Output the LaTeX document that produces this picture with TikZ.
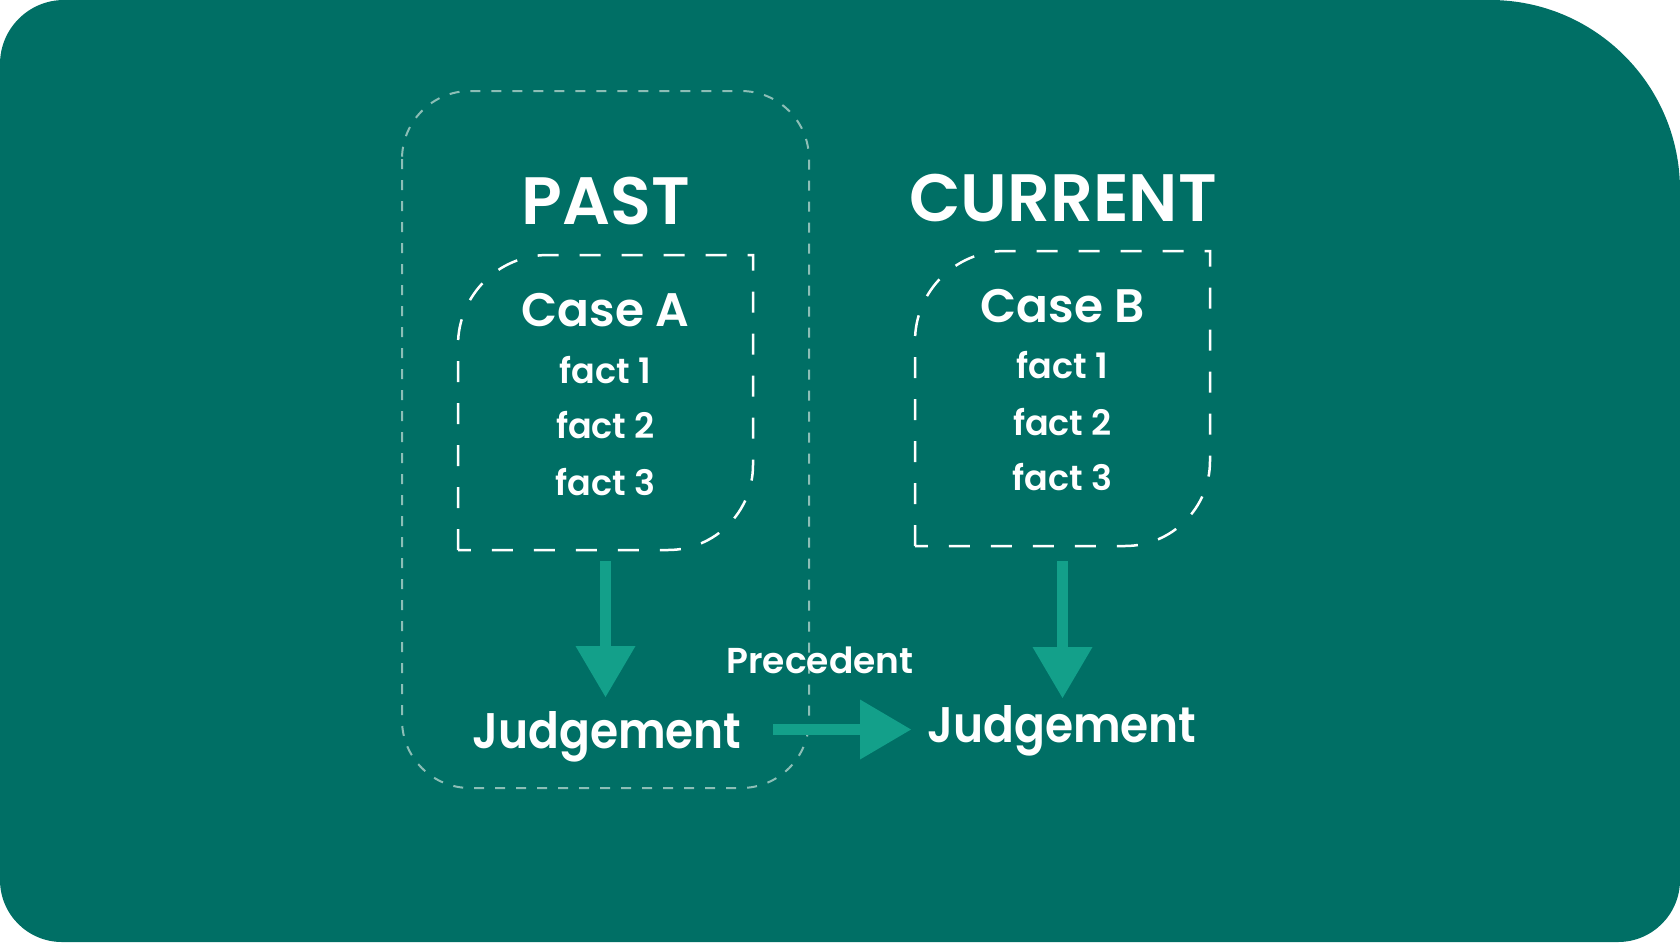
\documentclass[tikz,border=0pt]{standalone}
\usepackage{fontspec}
\setmainfont{Poppins}[UprightFont={* SemiBold}]
\usetikzlibrary{arrows.meta}
\definecolor{bg}{HTML}{006F65}
\definecolor{arr}{HTML}{13A08A}
\definecolor{outline}{HTML}{8CBEB6}
\tikzset{
  txt/.style={text=white, inner sep=0pt, anchor=base},
  titletxt/.style={txt, font=\fontsize{67}{80}\selectfont},
  casetxt/.style={txt, font=\fontsize{47}{56}\selectfont},
  facttxt/.style={txt, font=\fontsize{35}{42}\selectfont},
  judgetxt/.style={txt, font=\fontsize{50}{60}\selectfont},
  labeltxt/.style={txt, font=\fontsize{36}{43}\selectfont},
  innerbox/.style={draw=white, line width=2.5pt, dash pattern=on 21pt off 21pt},
  outerbox/.style={draw=outline, line width=2pt, dash pattern=on 10pt off 11pt},
  bigarrow/.style={draw=arr, line width=11pt, -{Triangle[length=51pt,width=60pt,line width=0pt]}}
}
\begin{document}
\begin{tikzpicture}[x=1pt,y=-1pt]
\useasboundingbox (0,0) rectangle (1680,942);
% background panel
\fill[bg] (0,64) arc[start angle=180,end angle=270,radius=64]
  -- (1490,0) arc[start angle=270,end angle=360,radius=190]
  -- (1680,880) arc[start angle=0,end angle=90,radius=62]
  -- (62,942) arc[start angle=90,end angle=180,radius=62] -- cycle;
% outer "past" group
\draw[outerbox, rounded corners=68pt] (402,91) rectangle (809,788);
% inner case boxes
\draw[innerbox] (458,550) -- (458,345) arc[start angle=180,end angle=270,radius=90]
  -- (753,255) -- (753,465) arc[start angle=0,end angle=90,radius=85] -- cycle;
\draw[innerbox] (915,546) -- (915,341) arc[start angle=180,end angle=270,radius=90]
  -- (1210,251) -- (1210,461) arc[start angle=0,end angle=90,radius=85] -- cycle;
% texts
\node[titletxt] (past) at (606,224) {PAST};
\node[titletxt] (current) at (1063,221) {CURRENT};
\node[casetxt] (caseA) at (605.5,326) {Case A};
\node[facttxt] (a1) at (605.5,383) {fact 1};
\node[facttxt] (a2) at (605.5,438) {fact 2};
\node[facttxt] (a3) at (605.5,495) {fact 3};
\node[casetxt] (caseB) at (1062.5,322) {Case B};
\node[facttxt] (b1) at (1062.5,378) {fact 1};
\node[facttxt] (b2) at (1062.5,435) {fact 2};
\node[facttxt] (b3) at (1062.5,490) {fact 3};
\node[judgetxt] (judgeA) at (607,748) {\scalebox{0.91}[1]{Judgement}};
\node[judgetxt] (judgeB) at (1062,742) {\scalebox{0.91}[1]{Judgement}};
\node[labeltxt] (prec) at (820,673) {Precedent};
% arrows
\coordinate (sA) at (605.5,561);
\coordinate (tA) at (605.5,697);
\coordinate (sB) at (1062.5,561);
\coordinate (tB) at (1062.5,698);
\coordinate (sP) at (773,729.5);
\coordinate (tP) at (911,729.5);
\draw[bigarrow] (sA) -- (tA);
\draw[bigarrow] (sB) -- (tB);
\draw[bigarrow] (sP) -- (tP);
\end{tikzpicture}
\end{document}
